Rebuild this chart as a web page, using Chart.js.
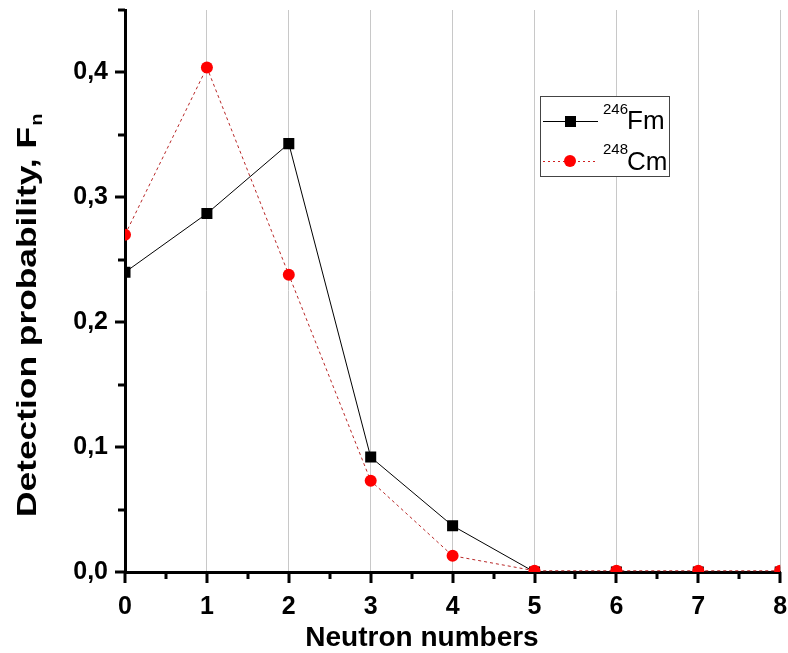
<!DOCTYPE html>
<html>
<head>
<meta charset="utf-8">
<script src="https://cdn.jsdelivr.net/npm/chart.js@4/dist/chart.umd.min.js"></script>
<style>
  html, body { margin: 0; padding: 0; background: #fff; }
  #wrap { width: 788px; height: 653px; }
</style>
</head>
<body>
<div id="wrap"><canvas id="chart" width="788" height="653"></canvas></div>
<script>
// Neutron multiplicity distributions
const neutronNumbers = [0, 1, 2, 3, 4, 5, 6, 7, 8];
const fm246 = [0.240, 0.287, 0.343, 0.092, 0.037, 0.000, 0.000, 0.000, 0.000];
const cm248 = [0.270, 0.404, 0.238, 0.073, 0.013, 0.001, 0.001, 0.001, 0.001];

const xTickLabels = ['0', '1', '2', '3', '4', '5', '6', '7', '8'];
const yTickValues = [0, 0.1, 0.2, 0.3, 0.4];
const yTickLabels = ['0,0', '0,1', '0,2', '0,3', '0,4'];

const FONT = '"Liberation Sans", Arial, Helvetica, sans-serif';

const toPoints = ys => neutronNumbers.map((x, i) => ({ x: x, y: ys[i] }));

// Axis ticks (major + minor), axis titles and legend
const decorations = {
  id: 'decorations',
  afterDraw(chart) {
    const ctx = chart.ctx;
    const xs = chart.scales.x, ys = chart.scales.y;
    const area = chart.chartArea;
    ctx.save();
    ctx.strokeStyle = '#000';
    ctx.lineCap = 'butt';

    // x ticks every 0.5, major at integers
    for (let v = 0; v <= 8.0001; v += 0.5) {
      const px = Math.round(xs.getPixelForValue(v));
      const major = Math.abs(v - Math.round(v)) < 1e-6;
      ctx.lineWidth = 3;
      ctx.beginPath();
      ctx.moveTo(px, area.bottom);
      ctx.lineTo(px, area.bottom + (major ? 11 : 7));
      ctx.stroke();
    }
    // y ticks every 0.05, major at tenths
    for (let k = 0; k <= 9; k++) {
      const v = k * 0.05;
      const py = Math.round(ys.getPixelForValue(v));
      const major = k % 2 === 0;
      ctx.lineWidth = 3;
      ctx.beginPath();
      ctx.moveTo(area.left, py);
      ctx.lineTo(area.left - (major ? 10 : 7), py);
      ctx.stroke();
    }

    // x axis title
    ctx.fillStyle = '#000';
    ctx.font = 'bold 28px ' + FONT;
    ctx.textAlign = 'center';
    ctx.textBaseline = 'alphabetic';
    ctx.fillText('Neutron numbers', 422, 646);

    // y axis title with subscript n
    ctx.save();
    ctx.translate(36, 517);
    ctx.rotate(-Math.PI / 2);
    ctx.font = 'bold 28px ' + FONT;
    const main = 'Detection probability, F';
    const w = ctx.measureText(main).width;
    const k = 390 / w;
    ctx.scale(k, 1);
    ctx.textAlign = 'left';
    ctx.fillText(main, 0, 0);
    ctx.font = 'bold 16px ' + FONT;
    ctx.fillText('n', w + 1, 6);
    ctx.restore();

    // legend
    const bx = 540.5, by = 96.5, bw = 129, bh = 80;
    ctx.fillStyle = '#fff';
    ctx.fillRect(bx, by, bw, bh);
    ctx.strokeStyle = '#444';
    ctx.lineWidth = 1;
    ctx.strokeRect(bx, by, bw, bh);

    // 246Fm sample
    ctx.strokeStyle = '#000';
    ctx.lineWidth = 1;
    ctx.beginPath();
    ctx.moveTo(543, 121.5);
    ctx.lineTo(598, 121.5);
    ctx.stroke();
    ctx.fillStyle = '#000';
    ctx.fillRect(565, 116, 11, 11);

    // 248Cm sample
    ctx.strokeStyle = '#d02020';
    ctx.setLineDash([2, 3]);
    ctx.beginPath();
    ctx.moveTo(543, 161.5);
    ctx.lineTo(598, 161.5);
    ctx.stroke();
    ctx.setLineDash([]);
    ctx.fillStyle = '#ff0000';
    ctx.beginPath();
    ctx.arc(570, 161, 6, 0, Math.PI * 2);
    ctx.fill();

    ctx.fillStyle = '#000';
    ctx.textAlign = 'left';
    ctx.font = '15px ' + FONT;
    ctx.fillText('246', 603, 114);
    ctx.fillText('248', 603, 154);
    ctx.font = '26px ' + FONT;
    ctx.fillText('Fm', 627, 129);
    ctx.fillText('Cm', 627, 170);

    ctx.restore();
  }
};

new Chart(document.getElementById('chart'), {
  type: 'line',
  data: {
    datasets: [
      {
        label: '246Fm',
        data: toPoints(fm246),
        borderColor: '#000',
        backgroundColor: '#000',
        borderWidth: 1,
        pointStyle: 'rect',
        pointRadius: 7.8,
        pointBorderWidth: 0,
        pointBackgroundColor: '#000',
        fill: false,
        tension: 0,
        order: 1,
        clip: { left: 0, top: false, right: 0, bottom: 0 }
      },
      {
        label: '248Cm',
        data: toPoints(cm248),
        borderColor: '#b82828',
        backgroundColor: '#ff0000',
        borderWidth: 1,
        borderDash: [3, 3],
        pointStyle: 'circle',
        pointRadius: 6,
        pointBorderWidth: 0,
        pointBackgroundColor: '#ff0000',
        fill: false,
        tension: 0,
        order: 0,
        clip: { left: 0, top: false, right: 0, bottom: 0 }
      }
    ]
  },
  options: {
    responsive: false,
    animation: false,
    devicePixelRatio: 1,
    layout: { padding: { top: 10, right: 7, left: 0, bottom: 0 } },
    plugins: {
      legend: { display: false },
      tooltip: { enabled: false },
      title: { display: false }
    },
    scales: {
      x: {
        type: 'linear',
        min: 0,
        max: 8,
        afterFit: s => { s.height = 81; s.paddingLeft = 0; s.paddingRight = 0; },
        afterBuildTicks: s => { s.ticks = neutronNumbers.map(v => ({ value: v })); },
        ticks: {
          autoSkip: false,
          maxRotation: 0,
          padding: 20,
          color: '#000',
          font: { family: FONT, size: 25, weight: 'bold' },
          callback: v => xTickLabels[neutronNumbers.indexOf(v)]
        },
        grid: { color: '#c8c8c8', lineWidth: 1, drawTicks: false },
        border: { display: true, color: '#000', width: 3 }
      },
      y: {
        type: 'linear',
        min: 0,
        max: 0.45,
        afterFit: s => { s.width = 125; s.paddingTop = 0; s.paddingBottom = 0; },
        afterBuildTicks: s => { s.ticks = yTickValues.map(v => ({ value: v })); },
        ticks: {
          padding: 17,
          color: '#000',
          font: { family: FONT, size: 25, weight: 'bold' },
          callback: v => {
            const i = yTickValues.findIndex(t => Math.abs(t - v) < 1e-9);
            return i >= 0 ? yTickLabels[i] : '';
          }
        },
        grid: { drawOnChartArea: false, drawTicks: false },
        border: { display: true, color: '#000', width: 3 }
      }
    }
  },
  plugins: [decorations]
});
</script>
</body>
</html>
